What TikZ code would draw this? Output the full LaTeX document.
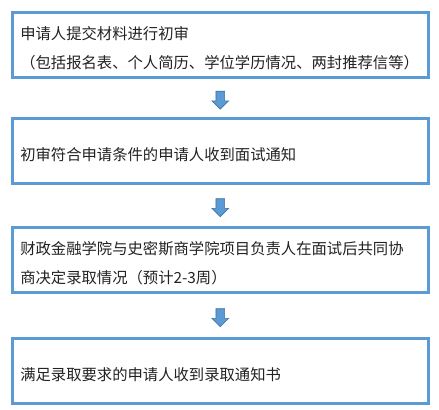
\documentclass[tikz,border=0pt]{standalone}
\usepackage{fontspec}
\setmainfont{Noto Sans CJK SC}
\usetikzlibrary{shapes,positioning}

\definecolor{stageblue}{HTML}{5B9BD5}
\definecolor{arrowedge}{HTML}{41719C}
\definecolor{stagetext}{HTML}{222222}

\tikzset{
    stagebox/.style={rectangle, draw=stageblue, line width=1.9pt, fill=white,
        text=stagetext, minimum width=312pt, minimum height=48.75pt,
        text width=300pt, inner xsep=6pt, outer sep=0pt, align=left,
        font=\fontsize{11.5pt}{21.75pt}\selectfont,
        execute at begin node={\rule{0pt}{14.5pt}}},
    flowarrow/.style={single arrow, shape border rotate=270, fill=stageblue,
        draw=arrowedge, line width=0.5pt, inner sep=3pt, minimum height=13.5pt,
        minimum width=12pt, single arrow head extend=3pt}
}

\begin{document}
\begin{tikzpicture}
    \useasboundingbox (0,0) rectangle (329.25pt,-307.5pt);

    % Application stages
    \node[stagebox, anchor=north west] (apply) at (9.2pt,-9.4pt)
        {申请人提交材料进行初审\\（包括报名表、个人简历、学位学历情况、两封推荐信等）};
    \node[stagebox, below=30.75pt of apply] (interview)
        {初审符合申请条件的申请人收到面试通知};
    \node[stagebox, below=33pt of interview] (decide)
        {财政金融学院与史密斯商学院项目负责人在面试后共同协\\商决定录取情况（预计2-3周）};
    \node[stagebox, below=34.5pt of decide] (offer)
        {满足录取要求的申请人收到录取通知书};

    % Block arrows between stages
    \path (apply) -- node[flowarrow] (a1) {} (interview);
    \path (interview) -- node[flowarrow] (a2) {} (decide);
    \path (decide) -- node[flowarrow] (a3) {} (offer);
\end{tikzpicture}
\end{document}
